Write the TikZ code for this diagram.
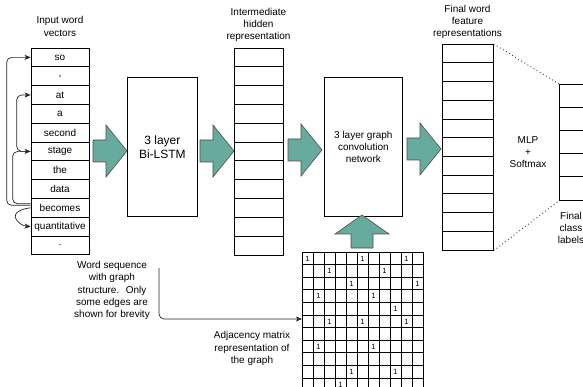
\documentclass[tikz,border=0pt]{standalone}
\usepackage{fontspec}
\setmainfont{Liberation Sans}
\usetikzlibrary{arrows.meta,calc}
\definecolor{arrowgreen}{HTML}{67AB9F}
\begin{document}
\begin{tikzpicture}[x=1pt,y=-1pt,
  lbl/.style={font=\fontsize{10}{12.4}\selectfont, align=center, inner sep=0pt},
  wordcell/.style={draw, line width=0.7pt, minimum width=58pt, minimum height=18.8pt, inner sep=0pt, font=\fontsize{10}{12}\selectfont},
  colbox/.style={draw, line width=0.7pt, inner sep=0pt},
  rowline/.style={line width=0.7pt},
  greenarrow/.style={draw=black!70, line width=0.6pt, fill=arrowgreen, line join=miter},
  edge/.style={draw=black!85, line width=0.7pt, rounded corners=5pt, -{Stealth[length=6pt,width=5pt,inset=1.5pt]}},
  one/.style={font=\fontsize{7.5}{7.5}\selectfont, inner sep=0pt},
  blockarrow/.pic={\path[greenarrow] (0,0) -- (-21,-26) -- (-21,-11) -- (-34,-11) -- (-34,11) -- (-21,11) -- (-21,26) -- cycle;}
]
\useasboundingbox (0,0) rectangle (583,387);

% input word column
\foreach \name/\txt [count=\i from 0] in {so/so, comma/{,}, at/at, a/a, second/second, stage/stage, the/the, data/data, becomes/becomes, quant/quantitative, dot/.}{
  \node[wordcell] (\name) at (60,{57.4+18.8*\i}) {\txt};
}
\node[lbl] (inlbl) at (60,26.5) {Input word\\vectors};

% graph edges on the left
\draw[edge] ($(becomes.west)+(0,-2.5)$) -| ($(so.west)+(-24,0)$) -- (so.west);
\draw[edge] (stage.west) -| ($(at.west)+(-14,0)$) -- (at.west);
\draw[edge] ($(becomes.west)+(0,-4)$) -| ($(stage.west)+(-18,0)$) -- (stage.west);
\draw[edge, rounded corners=0pt] (becomes.west) .. controls (20,209) and (13,213) .. (16,219) .. controls (19,224) and (24,226) .. (quant.west);

% LSTM
\node[colbox, minimum width=70pt, minimum height=139pt, anchor=north west, font=\fontsize{12}{14}\selectfont, align=center] (lstm) at (127,77) {3 layer\\Bi-LSTM};

% intermediate column
\node[colbox, minimum width=49pt, minimum height=206.8pt, anchor=north west] (hidden) at (234,48) {};
\foreach \i in {1,...,10}{\draw[rowline] ($(hidden.north west)+(0,18.8*\i)$) -- ++(49,0);}
\node[lbl] (hidlbl) at (258.5,25) {Intermediate\\hidden\\representation};

% GCN
\node[colbox, minimum width=78pt, minimum height=139pt, anchor=north west, font=\fontsize{10}{11.6}\selectfont, align=center] (gcn) at (324,77) {3 layer graph\\convolution\\network};

% final column
\node[colbox, minimum width=51pt, minimum height=206pt, anchor=north west] (finalcol) at (442,44) {};
\foreach \i in {1,...,10}{\draw[rowline] ($(finalcol.north west)+(0,18.727*\i)$) -- ++(51,0);}
\node[lbl] (finlbl) at (467.5,22) {Final word\\feature\\representations};

% class column
\node[colbox, minimum width=50pt, minimum height=116pt, anchor=north west] (classcol) at (559,84) {};
\foreach \i in {1,...,4}{\draw[rowline] ($(classcol.north west)+(0,23.2*\i)$) -- ++(50,0);}
\node[lbl] (clslbl) at (571,228) {Final\\class\\labels};
\node[lbl, font=\fontsize{10}{12}\selectfont] (mlp) at (528,152) {MLP\\+\\Softmax};

\draw[line width=0.9pt, dash pattern=on 0.9pt off 2.7pt, black!80] (finalcol.north east) -- (classcol.north west);
\draw[line width=0.9pt, dash pattern=on 0.9pt off 2.7pt, black!80] (finalcol.south east) -- (classcol.south west);

% block arrows
\coordinate (t1) at (127,151);
\coordinate (t2) at (234,151);
\coordinate (t3) at (322,150);
\coordinate (t4) at (441,149);
\pic at (t1) {blockarrow};
\pic at (t2) {blockarrow};
\pic at (t3) {blockarrow};
\pic at (t4) {blockarrow};
\path[greenarrow] (362,215) -- (389,234) -- (373,234) -- (373,248) -- (351,248) -- (351,234) -- (335,234) -- cycle;

% adjacency matrix
\node[colbox, minimum width=121pt, minimum height=138.6pt, anchor=north west] (adj) at (302,252) {};
\foreach \i in {1,...,10}{
  \draw[rowline] ($(adj.north west)+(11*\i,0)$) -- ++(0,138.6);
  \draw[rowline] ($(adj.north west)+(0,12.6*\i)$) -- ++(121,0);
}
\foreach \r/\c in {0/0,0/5,0/9,1/2,1/7,2/4,2/10,3/1,3/6,4/8,5/2,5/5,5/9,7/1,7/6,9/4,9/8,10/3}{
  \node[one] (m\r-\c) at ({302+11*\c+5.5},{252+12.6*\r+6.6}) {1};
}

% word sequence note
\node[lbl] (wordseq) at (112,290.5) {Word sequence\\with graph\\structure.~ Only\\some edges are\\shown for brevity};
\coordinate (wsstart) at (159,268);
\coordinate (adjin) at (302,319);
\draw[edge] (wsstart) |- (adjin);
\node[lbl] (adjlbl) at (252,348.5) {Adjacency matrix\\representation of\\the graph};
\end{tikzpicture}
\end{document}
